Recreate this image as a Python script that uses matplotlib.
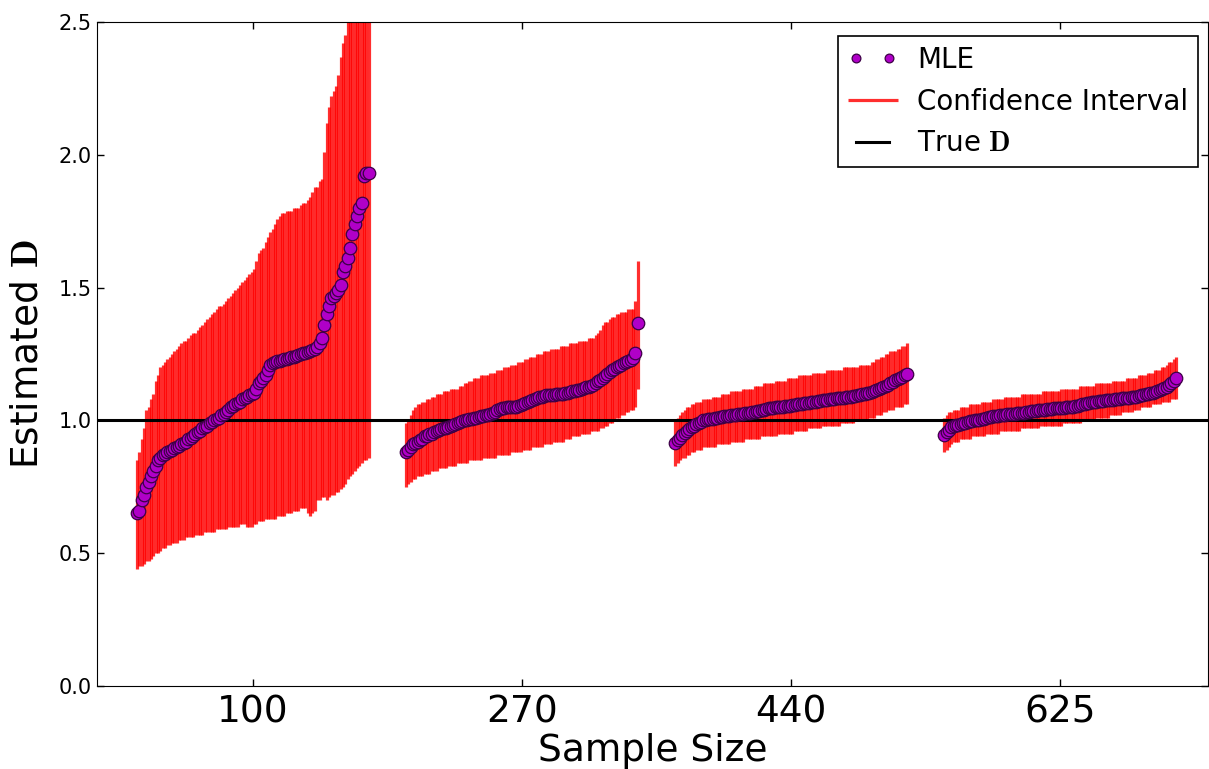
import numpy as np
import matplotlib.pyplot as plt

plt.rcParams['mathtext.fontset'] = 'cm'

sample_sizes = ['100', '270', '440', '625']

# sorted MLE estimates for each sample size (100 trials each)
mle_100 = [0.65, 0.66, 0.70, 0.72, 0.75, 0.77, 0.79, 0.81, 0.83, 0.85,
           0.86, 0.87, 0.875, 0.88, 0.885, 0.89, 0.895, 0.90, 0.905, 0.91,
           0.915, 0.92, 0.93, 0.935, 0.94, 0.95, 0.955, 0.96, 0.97, 0.975,
           0.98, 0.99, 0.995, 1.00, 1.005, 1.01, 1.02, 1.025, 1.03, 1.04,
           1.05, 1.055, 1.06, 1.065, 1.07, 1.08, 1.085, 1.09, 1.095, 1.10,
           1.105, 1.12, 1.14, 1.15, 1.16, 1.17, 1.19, 1.21, 1.215, 1.22,
           1.222, 1.225, 1.228, 1.23, 1.232, 1.235, 1.238, 1.24, 1.243, 1.246,
           1.25, 1.252, 1.255, 1.258, 1.26, 1.265, 1.27, 1.275, 1.29, 1.31,
           1.36, 1.40, 1.43, 1.46, 1.47, 1.48, 1.49, 1.51, 1.56, 1.58,
           1.61, 1.65, 1.70, 1.74, 1.77, 1.80, 1.82, 1.92, 1.93, 1.93]
low_100 = [0.44, 0.45, 0.45, 0.46, 0.47, 0.47, 0.48, 0.49, 0.50, 0.50,
           0.51, 0.52, 0.52, 0.53, 0.53, 0.54, 0.54, 0.54, 0.55, 0.55,
           0.55, 0.56, 0.56, 0.56, 0.56, 0.57, 0.57, 0.57, 0.57, 0.58,
           0.58, 0.58, 0.58, 0.58, 0.59, 0.59, 0.59, 0.59, 0.59, 0.60,
           0.60, 0.60, 0.60, 0.60, 0.61, 0.61, 0.61, 0.60, 0.60, 0.60,
           0.61, 0.61, 0.62, 0.62, 0.62, 0.63, 0.63, 0.63, 0.63, 0.63,
           0.64, 0.64, 0.64, 0.64, 0.65, 0.65, 0.65, 0.66, 0.66, 0.66,
           0.67, 0.67, 0.67, 0.65, 0.64, 0.65, 0.66, 0.70, 0.70, 0.71,
           0.71, 0.70, 0.71, 0.72, 0.72, 0.73, 0.73, 0.74, 0.75, 0.76,
           0.78, 0.79, 0.80, 0.81, 0.82, 0.83, 0.84, 0.85, 0.85, 0.86]
up_100 = [0.85, 0.88, 0.93, 0.97, 1.04, 1.05, 1.08, 1.10, 1.15, 1.17,
          1.20, 1.21, 1.22, 1.23, 1.24, 1.25, 1.26, 1.27, 1.28, 1.29,
          1.30, 1.30, 1.31, 1.32, 1.33, 1.33, 1.34, 1.35, 1.36, 1.37,
          1.38, 1.39, 1.40, 1.41, 1.42, 1.43, 1.43, 1.44, 1.45, 1.46,
          1.47, 1.48, 1.49, 1.50, 1.51, 1.52, 1.53, 1.54, 1.55, 1.56,
          1.57, 1.60, 1.63, 1.64, 1.65, 1.67, 1.69, 1.71, 1.72, 1.74,
          1.76, 1.77, 1.78, 1.78, 1.79, 1.79, 1.79, 1.80, 1.80, 1.80,
          1.81, 1.82, 1.82, 1.83, 1.84, 1.86, 1.88, 1.88, 1.90, 1.91,
          2.01, 2.12, 2.18, 2.22, 2.24, 2.26, 2.30, 2.37, 2.42, 2.45,
          2.55, 2.65, 2.75, 2.85, 2.95, 3.05, 3.30, 3.50, 3.60, 3.70]

mle_270 = [0.88, 0.89, 0.90, 0.91, 0.915, 0.92, 0.925, 0.93, 0.94, 0.943,
           0.947, 0.95, 0.955, 0.96, 0.964, 0.967, 0.97, 0.973, 0.976, 0.98,
           0.983, 0.986, 0.99, 0.993, 0.996, 1.00, 1.002, 1.004, 1.006, 1.008,
           1.01, 1.013, 1.016, 1.018, 1.02, 1.022, 1.025, 1.028, 1.033, 1.038,
           1.043, 1.047, 1.048, 1.049, 1.05, 1.05, 1.05, 1.05, 1.054, 1.058,
           1.062, 1.065, 1.069, 1.073, 1.077, 1.081, 1.085, 1.088, 1.09, 1.092,
           1.094, 1.095, 1.096, 1.097, 1.098, 1.099, 1.10, 1.101, 1.103, 1.105,
           1.107, 1.109, 1.111, 1.113, 1.115, 1.118, 1.121, 1.124, 1.127, 1.13,
           1.133, 1.14, 1.147, 1.153, 1.16, 1.167, 1.175, 1.182, 1.19, 1.195,
           1.20, 1.205, 1.21, 1.215, 1.219, 1.223, 1.227, 1.235, 1.254, 1.367]
low_270 = [0.75, 0.76, 0.77, 0.78, 0.78, 0.79, 0.79, 0.79, 0.80, 0.80,
           0.80, 0.81, 0.81, 0.81, 0.82, 0.82, 0.82, 0.82, 0.83, 0.83,
           0.83, 0.83, 0.84, 0.84, 0.84, 0.84, 0.84, 0.85, 0.85, 0.85,
           0.85, 0.85, 0.85, 0.86, 0.86, 0.86, 0.86, 0.86, 0.86, 0.87,
           0.87, 0.87, 0.87, 0.87, 0.87, 0.88, 0.88, 0.88, 0.88, 0.88,
           0.89, 0.89, 0.89, 0.89, 0.90, 0.90, 0.90, 0.90, 0.90, 0.91,
           0.91, 0.91, 0.91, 0.92, 0.92, 0.92, 0.92, 0.92, 0.93, 0.93,
           0.93, 0.94, 0.94, 0.94, 0.94, 0.95, 0.95, 0.95, 0.95, 0.96,
           0.96, 0.96, 0.96, 0.97, 0.97, 0.98, 0.98, 0.99, 0.99, 1.00,
           1.01, 1.01, 1.02, 1.02, 1.03, 1.03, 1.04, 1.04, 1.05, 1.12]
up_270 = [0.99, 1.00, 1.02, 1.04, 1.05, 1.06, 1.06, 1.07, 1.07, 1.08,
          1.08, 1.09, 1.09, 1.10, 1.10, 1.10, 1.11, 1.11, 1.11, 1.12,
          1.12, 1.12, 1.12, 1.13, 1.13, 1.14, 1.14, 1.15, 1.15, 1.16,
          1.16, 1.16, 1.17, 1.17, 1.17, 1.17, 1.18, 1.18, 1.18, 1.19,
          1.19, 1.19, 1.20, 1.20, 1.20, 1.21, 1.21, 1.21, 1.22, 1.22,
          1.22, 1.23, 1.23, 1.24, 1.24, 1.24, 1.25, 1.25, 1.25, 1.26,
          1.26, 1.26, 1.27, 1.27, 1.27, 1.27, 1.28, 1.28, 1.28, 1.28,
          1.29, 1.29, 1.29, 1.29, 1.30, 1.30, 1.30, 1.30, 1.31, 1.31,
          1.31, 1.32, 1.33, 1.34, 1.36, 1.37, 1.37, 1.38, 1.39, 1.39,
          1.40, 1.40, 1.41, 1.41, 1.41, 1.42, 1.42, 1.42, 1.45, 1.60]

mle_440 = [0.915, 0.925, 0.935, 0.945, 0.953, 0.96, 0.968, 0.975, 0.98, 0.985,
           0.99, 0.995, 1.00, 1.002, 1.004, 1.005, 1.007, 1.009, 1.01, 1.012,
           1.013, 1.015, 1.016, 1.018, 1.019, 1.021, 1.022, 1.024, 1.025, 1.026,
           1.027, 1.028, 1.029, 1.03, 1.032, 1.034, 1.036, 1.038, 1.04, 1.042,
           1.045, 1.047, 1.048, 1.049, 1.05, 1.051, 1.052, 1.053, 1.054, 1.056,
           1.057, 1.059, 1.06, 1.062, 1.063, 1.065, 1.066, 1.067, 1.068, 1.069,
           1.07, 1.072, 1.073, 1.075, 1.076, 1.077, 1.079, 1.08, 1.081, 1.083,
           1.084, 1.085, 1.086, 1.087, 1.088, 1.089, 1.091, 1.092, 1.094, 1.096,
           1.098, 1.10, 1.102, 1.104, 1.107, 1.111, 1.114, 1.118, 1.122, 1.126,
           1.13, 1.135, 1.14, 1.146, 1.152, 1.157, 1.161, 1.165, 1.17, 1.175]
low_440 = [0.83, 0.84, 0.85, 0.86, 0.86, 0.87, 0.87, 0.88, 0.88, 0.89,
           0.89, 0.89, 0.90, 0.90, 0.90, 0.90, 0.90, 0.90, 0.91, 0.91,
           0.91, 0.91, 0.91, 0.91, 0.92, 0.92, 0.92, 0.92, 0.92, 0.92,
           0.93, 0.93, 0.93, 0.93, 0.93, 0.93, 0.93, 0.94, 0.94, 0.94,
           0.94, 0.94, 0.94, 0.94, 0.95, 0.95, 0.95, 0.95, 0.95, 0.95,
           0.95, 0.96, 0.96, 0.96, 0.96, 0.96, 0.96, 0.97, 0.97, 0.97,
           0.97, 0.97, 0.97, 0.98, 0.98, 0.98, 0.98, 0.98, 0.98, 0.98,
           0.98, 0.99, 0.99, 0.99, 0.99, 0.99, 0.99, 1.00, 1.00, 1.00,
           1.00, 1.00, 1.00, 1.01, 1.01, 1.01, 1.02, 1.02, 1.02, 1.03,
           1.03, 1.04, 1.04, 1.04, 1.05, 1.05, 1.05, 1.05, 1.06, 1.06]
up_440 = [1.00, 1.01, 1.02, 1.03, 1.04, 1.05, 1.05, 1.06, 1.06, 1.07,
          1.07, 1.07, 1.08, 1.08, 1.08, 1.08, 1.09, 1.09, 1.09, 1.09,
          1.10, 1.10, 1.10, 1.10, 1.11, 1.11, 1.11, 1.11, 1.11, 1.12,
          1.12, 1.12, 1.12, 1.12, 1.13, 1.13, 1.13, 1.13, 1.14, 1.14,
          1.14, 1.14, 1.14, 1.15, 1.15, 1.15, 1.15, 1.15, 1.16, 1.16,
          1.16, 1.16, 1.16, 1.17, 1.17, 1.17, 1.17, 1.17, 1.17, 1.18,
          1.18, 1.18, 1.18, 1.18, 1.18, 1.19, 1.19, 1.19, 1.19, 1.19,
          1.19, 1.19, 1.20, 1.20, 1.20, 1.20, 1.20, 1.20, 1.20, 1.21,
          1.21, 1.21, 1.21, 1.21, 1.22, 1.22, 1.23, 1.23, 1.24, 1.24,
          1.25, 1.25, 1.26, 1.26, 1.26, 1.27, 1.27, 1.28, 1.28, 1.29]

mle_625 = [0.945, 0.955, 0.965, 0.975, 0.978, 0.981, 0.984, 0.987, 0.99, 0.992,
           0.994, 0.996, 0.998, 1.00, 1.002, 1.003, 1.005, 1.007, 1.009, 1.011,
           1.013, 1.015, 1.016, 1.018, 1.02, 1.021, 1.022, 1.023, 1.024, 1.025,
           1.026, 1.027, 1.027, 1.028, 1.029, 1.031, 1.032, 1.034, 1.035, 1.037,
           1.038, 1.039, 1.04, 1.041, 1.042, 1.043, 1.044, 1.045, 1.046, 1.046,
           1.047, 1.048, 1.049, 1.05, 1.051, 1.052, 1.054, 1.056, 1.058, 1.06,
           1.062, 1.064, 1.066, 1.068, 1.07, 1.071, 1.072, 1.073, 1.074, 1.075,
           1.076, 1.077, 1.078, 1.08, 1.081, 1.082, 1.083, 1.084, 1.085, 1.086,
           1.087, 1.088, 1.09, 1.092, 1.094, 1.096, 1.098, 1.10, 1.103, 1.105,
           1.107, 1.11, 1.114, 1.118, 1.122, 1.126, 1.132, 1.14, 1.15, 1.16]
low_625 = [0.88, 0.89, 0.90, 0.91, 0.92, 0.92, 0.92, 0.93, 0.93, 0.93,
           0.93, 0.93, 0.94, 0.94, 0.94, 0.94, 0.94, 0.94, 0.95, 0.95,
           0.95, 0.95, 0.95, 0.95, 0.96, 0.96, 0.96, 0.96, 0.96, 0.96,
           0.96, 0.96, 0.96, 0.97, 0.97, 0.97, 0.97, 0.97, 0.97, 0.97,
           0.97, 0.98, 0.98, 0.98, 0.98, 0.98, 0.98, 0.98, 0.98, 0.98,
           0.98, 0.99, 0.99, 0.99, 0.99, 0.99, 0.99, 0.99, 0.99, 1.00,
           1.00, 1.00, 1.00, 1.00, 1.00, 1.01, 1.01, 1.01, 1.01, 1.01,
           1.01, 1.02, 1.02, 1.02, 1.02, 1.02, 1.03, 1.03, 1.03, 1.03,
           1.03, 1.04, 1.04, 1.04, 1.05, 1.05, 1.05, 1.05, 1.05, 1.06,
           1.06, 1.06, 1.06, 1.07, 1.07, 1.07, 1.07, 1.08, 1.08, 1.08]
up_625 = [1.01, 1.02, 1.03, 1.03, 1.04, 1.04, 1.04, 1.05, 1.05, 1.05,
          1.05, 1.06, 1.06, 1.06, 1.06, 1.06, 1.07, 1.07, 1.07, 1.07,
          1.07, 1.08, 1.08, 1.08, 1.08, 1.08, 1.09, 1.09, 1.09, 1.09,
          1.09, 1.09, 1.09, 1.10, 1.10, 1.10, 1.10, 1.10, 1.10, 1.10,
          1.10, 1.10, 1.11, 1.11, 1.11, 1.11, 1.11, 1.11, 1.11, 1.11,
          1.12, 1.12, 1.12, 1.12, 1.12, 1.12, 1.12, 1.12, 1.13, 1.13,
          1.13, 1.13, 1.13, 1.13, 1.13, 1.14, 1.14, 1.14, 1.14, 1.14,
          1.14, 1.14, 1.15, 1.15, 1.15, 1.15, 1.15, 1.15, 1.16, 1.16,
          1.16, 1.16, 1.16, 1.17, 1.17, 1.17, 1.17, 1.18, 1.18, 1.18,
          1.19, 1.19, 1.19, 1.20, 1.20, 1.21, 1.22, 1.22, 1.23, 1.24]

true_D = 1.0

mle = [mle_100, mle_270, mle_440, mle_625]
low = [low_100, low_270, low_440, low_625]
up = [up_100, up_270, up_440, up_625]

stride = 115  # spacing between groups on the x axis

fig = plt.figure(figsize=(12.09, 7.69), dpi=100)
ax = fig.add_axes([0.0802, 0.1079, 0.919, 0.8635])

for g in range(4):
    x = np.arange(len(mle[g])) + g * stride
    ax.vlines(x, low[g], up[g], color='red', alpha=0.82, linewidth=2.3,
              label='Confidence Interval' if g == 0 else None, zorder=1)
    ax.plot(x, mle[g], 'o', markersize=9, markerfacecolor='#b000c8',
            markeredgecolor='#3c0046', markeredgewidth=0.9,
            label='MLE' if g == 0 else None, zorder=3)

ax.axhline(true_D, color='black', linewidth=2.2, label=r'True $\mathbf{D}$', zorder=2)

ax.set_xlim(-17.1, 457.7)
ax.set_ylim(0, 2.5)
ax.set_yticks(np.arange(0, 2.51, 0.5))
ax.set_yticklabels(['%.1f' % v for v in np.arange(0, 2.51, 0.5)], fontsize=15)
ax.set_xticks([49.5 + g * stride for g in range(4)])
ax.set_xticklabels(sample_sizes, fontsize=27)
ax.tick_params(direction='in', top=True, right=True, length=5, width=1)
ax.tick_params(axis='x', pad=6)

ax.set_xlabel('Sample Size', fontsize=27, labelpad=2)
ax.set_ylabel(r'Estimated $\mathbf{D}$', fontsize=27, labelpad=10)

handles, labels = ax.get_legend_handles_labels()
order = [labels.index('MLE'), labels.index('Confidence Interval'), labels.index(r'True $\mathbf{D}$')]
leg = ax.legend([handles[i] for i in order], [labels[i] for i in order],
                loc='upper right', bbox_to_anchor=(0.991, 0.979), borderaxespad=0,
                fontsize=20, numpoints=2, markerscale=0.7, handlelength=1.8,
                handletextpad=0.7, borderpad=0.35, fancybox=False, framealpha=1,
                edgecolor='black')
leg.get_frame().set_linewidth(1.2)

plt.savefig('out.png', dpi=100)
